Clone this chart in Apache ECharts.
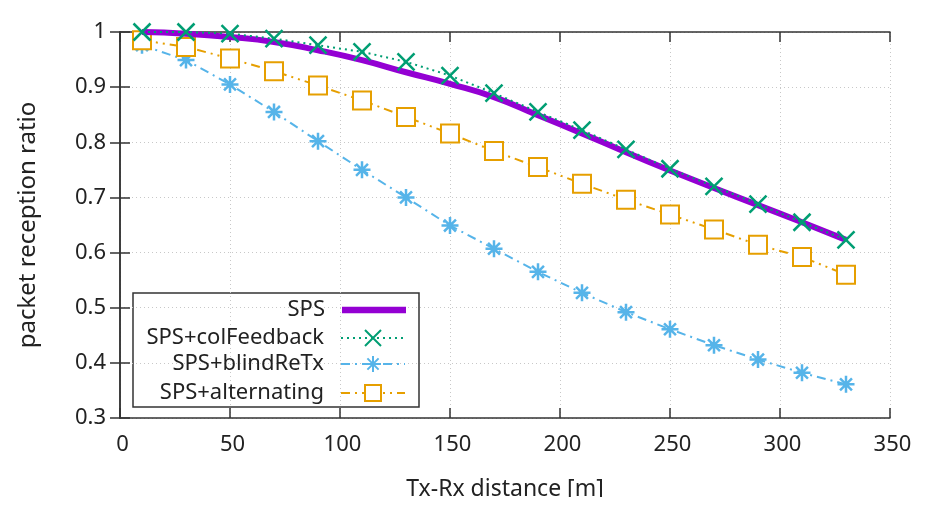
<!DOCTYPE html>
<html><head><meta charset="utf-8">
<script src="https://cdn.jsdelivr.net/npm/echarts@6/dist/echarts.min.js"></script>
<style>html,body{margin:0;padding:0;background:#fff}#c{width:934px;height:517px}</style>
</head><body><div id="c"></div>
<script>
const distances = [10,30,50,70,90,110,130,150,170,190,210,230,250,270,290,310,330];
const sps         = [1.000,0.997,0.991,0.982,0.967,0.949,0.927,0.906,0.882,0.849,0.816,0.782,0.749,0.717,0.686,0.655,0.623];
const colFeedback = [1.000,1.000,0.997,0.988,0.976,0.964,0.946,0.921,0.889,0.855,0.822,0.787,0.752,0.720,0.688,0.655,0.623];
const blindReTx   = [0.976,0.949,0.905,0.855,0.802,0.750,0.700,0.649,0.607,0.565,0.527,0.492,0.461,0.432,0.406,0.382,0.361];
const alternating = [0.985,0.973,0.952,0.929,0.903,0.876,0.846,0.816,0.784,0.755,0.725,0.696,0.669,0.642,0.614,0.592,0.560];
const seriesNames = ['SPS','SPS+colFeedback','SPS+blindReTx','SPS+alternating'];
const xTicks = [0,50,100,150,200,250,300,350];
const yTicks = [0.3,0.4,0.5,0.6,0.7,0.8,0.9,1];

const FONT = '"Noto Sans", "Open Sans", sans-serif';
const TXT = '#222';
const pairs = arr => distances.map((d,i)=>[d,arr[i]]);

const axisLine = {show:true, lineStyle:{color:'#333', width:1.5}};
const tick = {show:true, inside:true, length:10, lineStyle:{color:'#333', width:1.5}};
const split = {show:true, lineStyle:{color:'#c8c8c8', type:[1,3], width:1}};

function legendFor(item, top){
  return {
    data:[item], orient:'vertical', right:528, top:top, padding:0,
    align:'right', itemWidth:64, itemHeight:20, itemGap:0,
    textStyle:{fontFamily:FONT, fontSize:22, color:TXT, lineHeight:28, padding:[0,12,0,0]},
    selectedMode:false
  };
}

const chart = echarts.init(document.getElementById('c'), null, {renderer:'canvas'});
chart.setOption({
  animation:false,
  backgroundColor:'#fff',
  grid:{left:120, top:32, right:44, bottom:99, containLabel:false},
  legend:[
    legendFor({name:seriesNames[0], icon:'path://M0,0L64,0L64,6.5L0,6.5Z'}, 296),
    legendFor({name:seriesNames[1]}, 324),
    legendFor({name:seriesNames[2]}, 350),
    legendFor({name:seriesNames[3]}, 379)
  ],
  graphic:[
    {type:'rect', shape:{x:133, y:293, width:286, height:114}, style:{fill:'none', stroke:'#333', lineWidth:1.5}, z:-1},
    {type:'rect', shape:{x:0, y:497, width:934, height:20}, style:{fill:'#fff'}, z:100}
  ],
  xAxis:[{
    type:'value', min:xTicks[0], max:xTicks[xTicks.length-1], interval:50,
    name:'Tx-Rx distance [m]', nameLocation:'middle', nameGap:60,
    nameTextStyle:{fontFamily:FONT, fontSize:23, color:TXT},
    axisLine, axisTick:tick, splitLine:split,
    axisLabel:{fontFamily:FONT, fontSize:22, color:TXT, margin:16, padding:[0,0,0,5]}
  },{
    type:'value', position:'top', min:xTicks[0], max:xTicks[xTicks.length-1], interval:50,
    axisLine, axisTick:tick, splitLine:{show:false}, axisLabel:{show:false}
  }],
  yAxis:[{
    type:'value', min:yTicks[0], max:yTicks[yTicks.length-1], interval:0.1,
    name:'packet reception ratio', nameLocation:'middle', nameGap:80, nameRotate:90,
    nameTextStyle:{fontFamily:FONT, fontSize:24, color:TXT},
    axisLine, axisTick:tick, splitLine:split,
    axisLabel:{fontFamily:FONT, fontSize:22, color:TXT, margin:14}
  },{
    type:'value', position:'right', min:yTicks[0], max:yTicks[yTicks.length-1], interval:0.1,
    axisLine, axisTick:tick, splitLine:{show:false}, axisLabel:{show:false}
  }],
  series:[
    {name:seriesNames[0], type:'line', data:pairs(sps), smooth:true, symbol:'none',
     lineStyle:{color:'#9400d3', width:6}, itemStyle:{color:'#9400d3'}, z:3},
    {name:seriesNames[1], type:'line', data:pairs(colFeedback), symbol:'path://M0,0L10,10M10,0L0,10', symbolSize:17,
     lineStyle:{color:'#009e73', width:2, type:[2,4]}, itemStyle:{color:'#009e73', borderColor:'#009e73', borderWidth:2.5}, z:4},
    {name:seriesNames[2], type:'line', data:pairs(blindReTx), symbol:'path://M0,5L10,5M5,0L5,10M1.5,1.5L8.5,8.5M8.5,1.5L1.5,8.5', symbolSize:17,
     lineStyle:{color:'#56b4e9', width:2, type:[9,5,2,5]}, itemStyle:{color:'#56b4e9', borderColor:'#56b4e9', borderWidth:2.5}, z:2},
    {name:seriesNames[3], type:'line', data:pairs(alternating), symbol:'emptyRect', symbolSize:18,
     lineStyle:{color:'#e69f00', width:2, type:[9,5,2,5,2,5]}, itemStyle:{color:'#e69f00'}, z:2}
  ]
});
</script></body></html>
